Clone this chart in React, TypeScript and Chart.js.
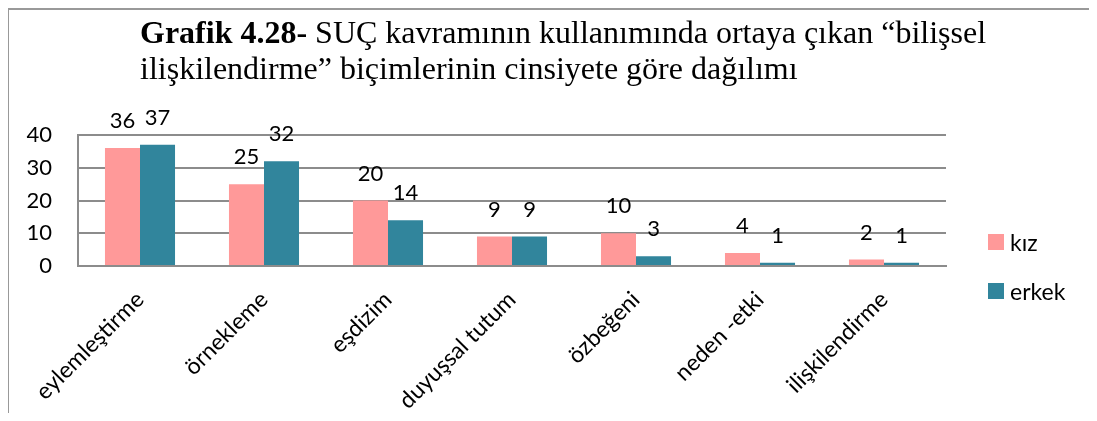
import React, { useEffect, useRef } from "react";
import { Chart, registerables } from "chart.js";

Chart.register(...registerables);

const categories = [
  "eylemleştirme",
  "örnekleme",
  "eşdizim",
  "duyuşsal tutum",
  "özbeğeni",
  "neden -etki",
  "ilişkilendirme",
];
const kizValues = [36, 25, 20, 9, 10, 4, 2];
const erkekValues = [37, 32, 14, 9, 3, 1, 1];
const seriesNames = ["kız", "erkek"];
const seriesColors = ["#FF9999", "#31859C"];
const yTicks = [0, 10, 20, 30, 40];

const FONT = "Lato, 'Open Sans', sans-serif";

const dataLabelPlugin = {
  id: "dataLabels",
  afterDatasetsDraw(chart: any) {
    const ctx = chart.ctx;
    ctx.save();
    ctx.font = `22px ${FONT}`;
    ctx.fillStyle = "#000";
    ctx.textAlign = "center";
    ctx.textBaseline = "middle";
    chart.data.datasets.forEach((ds: any, di: number) => {
      const meta = chart.getDatasetMeta(di);
      meta.data.forEach((bar: any, i: number) => {
        ctx.fillText(String(ds.data[i]), bar.x, bar.y - 27);
      });
    });
    ctx.restore();
  },
};

export default function App() {
  const canvasRef = useRef<HTMLCanvasElement | null>(null);

  useEffect(() => {
    if (!canvasRef.current) return;
    const chart = new Chart(canvasRef.current, {
      type: "bar",
      data: {
        labels: categories,
        datasets: [
          {
            label: seriesNames[0],
            data: kizValues,
            backgroundColor: seriesColors[0],
            categoryPercentage: 0.565,
            barPercentage: 1,
          },
          {
            label: seriesNames[1],
            data: erkekValues,
            backgroundColor: seriesColors[1],
            categoryPercentage: 0.565,
            barPercentage: 1,
          },
        ],
      },
      options: {
        animation: false,
        responsive: false,
        layout: { padding: { left: 0, right: 148, top: 125, bottom: 0 } },
        plugins: {
          legend: { display: false },
          title: { display: false },
          tooltip: { enabled: false },
        },
        scales: {
          x: {
            grid: { display: false, drawTicks: false },
            border: { display: true, color: "#8c8c8c", width: 2 },
            ticks: {
              color: "#000",
              font: { family: FONT, size: 23 },
              maxRotation: 45,
              minRotation: 45,
              autoSkip: false,
              padding: 20,
            },
            afterFit: (s: any) => {
              s.height = 147;
            },
          },
          y: {
            min: 0,
            max: 40,
            afterBuildTicks: (s: any) => {
              s.ticks = yTicks.map((v) => ({ value: v }));
            },
            grid: { color: "#8c8c8c", lineWidth: 2, drawTicks: false },
            border: { display: true, color: "#8c8c8c", width: 2 },
            ticks: {
              color: "#000",
              font: { family: FONT, size: 22 },
              padding: 26,
            },
            afterFit: (s: any) => {
              s.width = 69;
            },
          },
        },
      },
      plugins: [dataLabelPlugin],
    });
    return () => chart.destroy();
  }, []);

  const legendText: React.CSSProperties = {
    fontFamily: FONT,
    fontSize: 23,
    color: "#000",
    lineHeight: "22px",
  };

  return (
    <div
      style={{
        position: "relative",
        width: 1089,
        height: 405,
        marginLeft: -1,
        border: "2px solid #999",
        borderBottom: "none",
        boxSizing: "border-box",
        background: "#fff",
      }}
    >
      <canvas
        ref={canvasRef}
        width={1085}
        height={403}
        style={{ position: "absolute", left: 0, top: 0, width: 1085, height: 403 }}
      />
      <div
        style={{
          position: "absolute",
          left: 131,
          top: 4,
          fontFamily: "'Liberation Serif', 'Times New Roman', serif",
          fontSize: 32,
          lineHeight: "36px",
          color: "#000",
          whiteSpace: "nowrap",
        }}
      >
        <b>Grafik 4.28-</b> SUÇ kavramının kullanımında ortaya çıkan “bilişsel
        <br />
        ilişkilendirme” biçimlerinin cinsiyete göre dağılımı
      </div>
      {seriesNames.map((name, i) => (
        <div
          key={name}
          style={{
            position: "absolute",
            left: 979,
            top: 224 + i * 49,
            display: "flex",
            alignItems: "center",
            height: 16,
          }}
        >
          <span
            style={{
              display: "inline-block",
              width: 16,
              height: 16,
              background: seriesColors[i],
              marginRight: 6,
            }}
          />
          <span style={legendText}>{name}</span>
        </div>
      ))}
    </div>
  );
}
